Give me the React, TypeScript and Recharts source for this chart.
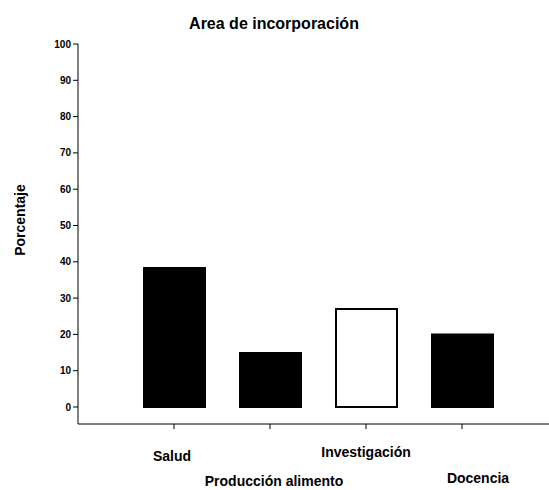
import { BarChart, Bar, XAxis, YAxis, Cell } from 'recharts';

const categories = ['Salud', 'Producción alimento', 'Investigación', 'Docencia'];
const values = [38.3, 14.9, 27, 20];
const fills = ['#000000', '#000000', '#ffffff', '#000000'];
const yTicks = [0, 10, 20, 30, 40, 50, 60, 70, 80, 90, 100];

const data = categories.map((name, i) => ({ name, value: values[i], fill: fills[i] }));

const FONT = 'Liberation Sans, Arial, sans-serif';

// labels are staggered on two rows like the scanned original
const tickOffsets = [
  { dx: -2, dy: 25 },
  { dx: 4, dy: 50 },
  { dx: 0, dy: 21 },
  { dx: 16, dy: 47 },
];

const CategoryTick = (props: any) => {
  const { x, y, index, payload } = props;
  const off = tickOffsets[index] || { dx: 0, dy: 20 };
  return (
    <text
      x={x + off.dx}
      y={y + off.dy}
      textAnchor="middle"
      dominantBaseline="central"
      fontFamily={FONT}
      fontSize={14}
      fontWeight="bold"
      fill="#000"
    >
      {payload.value}
    </text>
  );
};

export default function App() {
  return (
    <div style={{ position: 'absolute', left: 0, top: 0, width: 549, height: 490, background: '#fff' }}>
      <BarChart
        width={549}
        height={490}
        data={data}
        margin={{ top: 44, right: 0, bottom: 0, left: 0 }}
      >
        <XAxis
          dataKey="name"
          height={66}
          padding={{ left: 48, right: 39 }}
          stroke="#000"
          tick={<CategoryTick />}
          tickSize={5}
          interval={0}
        />
        <YAxis
          width={78}
          domain={[-4.68, 100]}
          ticks={yTicks}
          allowDataOverflow
          stroke="#000"
          tickSize={5}
          tick={{ fontFamily: FONT, fontSize: 10, fontWeight: 'bold', fill: '#000' }}
        />
        <Bar dataKey="value" barSize={61} stroke="#000" strokeWidth={2} isAnimationActive={false}>
          {data.map((d) => (
            <Cell key={d.name} fill={d.fill} />
          ))}
        </Bar>
      </BarChart>
      <svg width={549} height={490} style={{ position: 'absolute', left: 0, top: 0, pointerEvents: 'none' }}>
        <text x={274} y={23} textAnchor="middle" dominantBaseline="central"
          fontFamily={FONT} fontSize={16} fontWeight="bold" fill="#000">
          Area de incorporación
        </text>
        <text x={20} y={220} transform="rotate(-90 20 220)" textAnchor="middle" dominantBaseline="central"
          fontFamily={FONT} fontSize={14} fontWeight="bold" fill="#000">
          Porcentaje
        </text>
      </svg>
    </div>
  );
}
